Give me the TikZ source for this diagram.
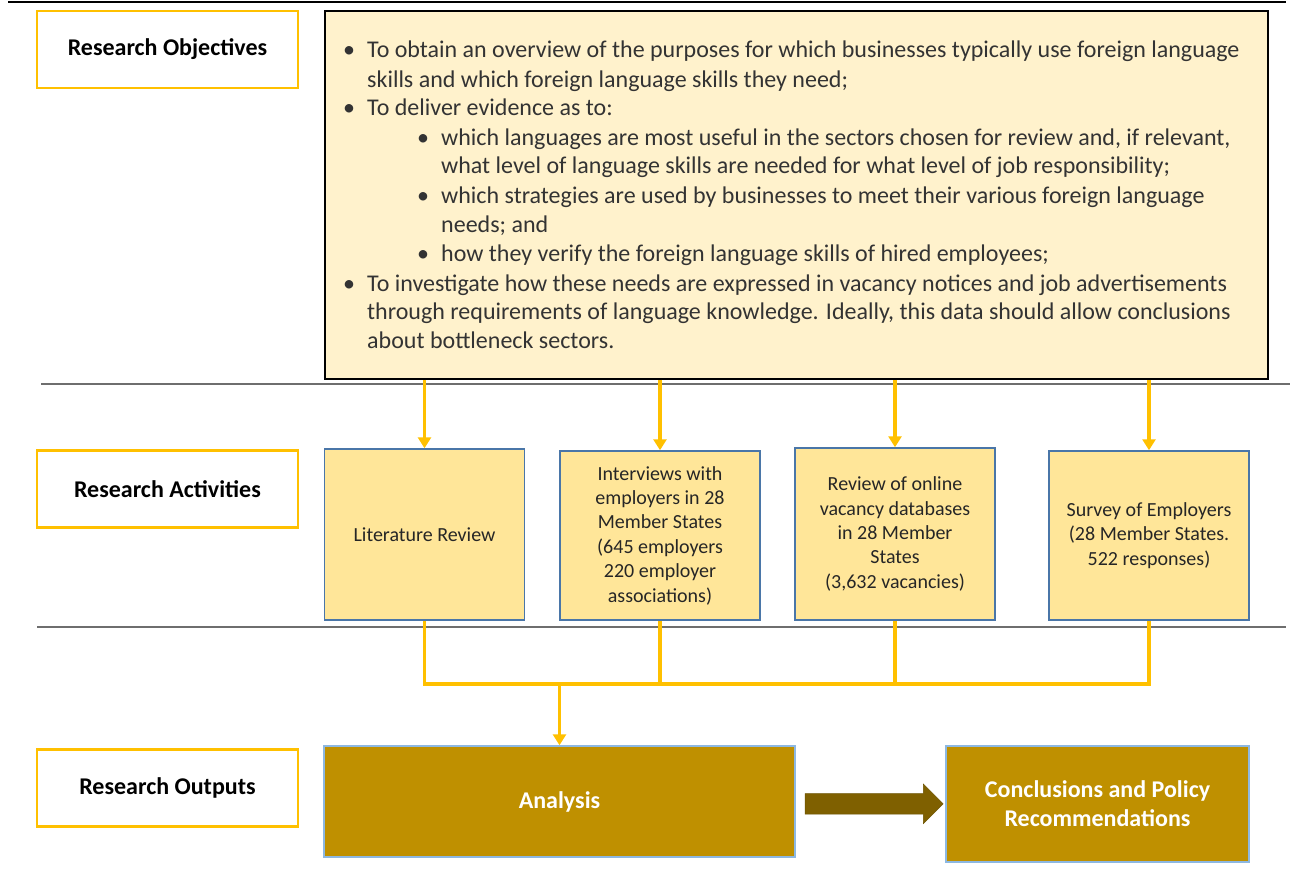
\documentclass[tikz,border=0pt]{standalone}
\usepackage{fontspec}
\setmainfont{Carlito}
\usetikzlibrary{arrows.meta,shapes.arrows,calc}
\definecolor{gold}{HTML}{FFC000}
\definecolor{paleyellow}{HTML}{FFF2CC}
\definecolor{actfill}{HTML}{FFE699}
\definecolor{actborder}{HTML}{4A76A8}
\definecolor{outfill}{HTML}{BF9000}
\definecolor{outborder}{HTML}{8DB8E2}
\definecolor{arrowbrown}{HTML}{7F6000}
\definecolor{sepgray}{HTML}{6E6E6E}
\begin{document}
\begin{tikzpicture}[x=1pt,y=-1pt,
  labelbox/.style={draw=gold, line width=2.2pt, fill=white, minimum width=261pt, minimum height=77pt, inner sep=0pt, font=\fontsize{24}{29}\selectfont\bfseries},
  objbox/.style={draw=black, line width=1.8pt, fill=paleyellow, minimum width=943pt, minimum height=368pt, inner sep=0pt},
  txt/.style={anchor=base west, inner sep=0pt, font=\fontsize{24}{29}\selectfont, text=black!80},
  actbox/.style={draw=actborder, line width=1.5pt, fill=actfill, minimum width=200pt, inner sep=0pt, align=center, font=\fontsize{20}{24.4}\selectfont, text=black!85},
  outbox/.style={draw=outborder, line width=1.5pt, fill=outfill, inner sep=0pt, align=center, text=white, font=\fontsize{24}{29}\selectfont\bfseries},
  sep/.style={draw=sepgray, line width=1.3pt},
  link/.style={draw=gold, line width=3.5pt},
  conn/.style={link, -{Triangle[width=13pt,length=11pt]}}
]
\path[use as bounding box] (0,0) rectangle (1293,873);

% separators
\coordinate (t1) at (8,2);
\coordinate (t2) at (1286,2);
\draw[line width=1.3pt] (t1) -- (t2);
\coordinate (s1a) at (41,384);
\coordinate (s1b) at (1290,384);
\draw[sep] (s1a) -- (s1b);
\coordinate (s2a) at (37,627);
\coordinate (s2b) at (1286,627);
\draw[sep] (s2a) -- (s2b);

% row labels
\node[labelbox] (lobj) at (167.5,49.5) {Research Objectives};
\node[labelbox] (lact) at (167.5,489) {Research Activities};
\node[labelbox] (lout) at (167.5,788) {Research Outputs};

% objectives box
\node[objbox] (obj) at (796.5,195) {};
\newcommand{\bul}{\makebox[24pt][l]{\textbullet}}
\node[txt] (o1) at (343,57) {\bul To obtain an overview of the purposes for which businesses typically use foreign language};
\node[txt] (o2) at (367,87) {skills and which foreign language skills they need;};
\node[txt] (o3) at (343,115) {\bul To deliver evidence as to:};
\node[txt] (o4) at (417,145) {\bul which languages are most useful in the sectors chosen for review and, if relevant,};
\node[txt] (o5) at (441,173) {what level of language skills are needed for what level of job responsibility;};
\node[txt] (o6) at (417,203) {\bul which strategies are used by businesses to meet their various foreign language};
\node[txt] (o7) at (441,232) {needs; and};
\node[txt] (o8) at (417,261) {\bul how they verify the foreign language skills of hired employees;};
\node[txt] (o9) at (343,291) {\bul To investigate how these needs are expressed in vacancy notices and job advertisements};
\node[txt] (o10) at (367,319) {through requirements of language knowledge. Ideally, this data should allow conclusions};
\node[txt] (o11) at (367,348) {about bottleneck sectors.};

% activities
\node[actbox, minimum height=171pt] (a1) at (424.5,534.5) {Literature Review};
\node[actbox, minimum height=169pt] (a2) at (660,535.5) {Interviews with\\employers in 28\\Member States\\(645 employers\\220 employer\\associations)};
\node[actbox, minimum height=172pt] (a3) at (895,534) {Review of online\\vacancy databases\\in 28 Member\\States\\(3,632 vacancies)};
\node[actbox, minimum height=169pt] (a4) at (1149,535.5) {Survey of Employers\\(28 Member States.\\522 responses)};

% arrows from objectives
\foreach \n in {a1,a2,a3,a4} {
  \draw[conn] (obj.south -| \n.north) -- (\n.north);
}

% outputs
\node[outbox, minimum width=471pt, minimum height=111pt] (an) at (559.5,801.5) {Analysis};
\node[outbox, minimum width=303pt, minimum height=116pt] (co) at (1097.5,804) {Conclusions and Policy\\Recommendations};

% merge lines
\coordinate (j) at (an.north |- {(0,684)});
\draw[link] (a1.south) |- (a4.south |- j) -- (a4.south);
\draw[link] (a2.south) -- (a2.south |- j);
\draw[link] (a3.south) -- (a3.south |- j);
\draw[conn] (j) -- (an.north);

% block arrow
\node[single arrow, fill=arrowbrown, draw=arrowbrown!85!black, line width=0.5pt, minimum height=138pt, inner xsep=0pt, inner ysep=10pt, single arrow head extend=9.5pt, single arrow head indent=0pt] (arr) at ($(an.east)!0.5!(co.west)+(-1.5,1)$) {};
\end{tikzpicture}
\end{document}
